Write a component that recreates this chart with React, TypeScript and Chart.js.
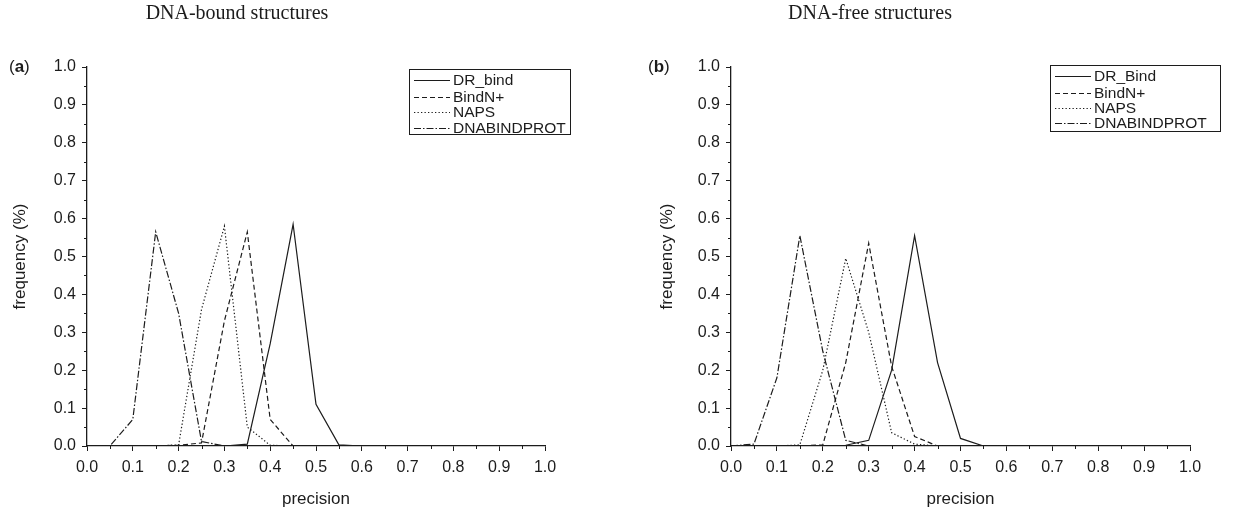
import React, { useEffect, useRef } from "react";
import { Chart, registerables } from "chart.js";

Chart.register(...registerables);

// ---------- data ----------
const precisionBins = [0, 0.05, 0.1, 0.15, 0.2, 0.25, 0.3, 0.35, 0.4, 0.45, 0.5, 0.55, 0.6, 0.65, 0.7, 0.75, 0.8, 0.85, 0.9, 0.95];

const boundDRBind = [0, 0, 0, 0, 0, 0, 0, 0.005, 0.27, 0.585, 0.11, 0.003, 0, 0, 0, 0, 0, 0, 0, 0];
const boundBindN = [0, 0, 0, 0, 0.002, 0.008, 0.33, 0.565, 0.07, 0, 0, 0, 0, 0, 0, 0, 0, 0, 0, 0];
const boundNAPS = [0, 0, 0, 0, 0.003, 0.36, 0.58, 0.05, 0.002, 0, 0, 0, 0, 0, 0, 0, 0, 0, 0, 0];
const boundDNABINDPROT = [0, 0, 0.07, 0.565, 0.35, 0.012, 0, 0, 0, 0, 0, 0, 0, 0, 0, 0, 0, 0, 0, 0];

const freeDRBind = [0, 0, 0, 0, 0, 0.002, 0.015, 0.2, 0.555, 0.22, 0.02, 0, 0, 0, 0, 0, 0, 0, 0, 0];
const freeBindN = [0, 0, 0, 0, 0.003, 0.22, 0.535, 0.21, 0.025, 0, 0, 0, 0, 0, 0, 0, 0, 0, 0, 0];
const freeNAPS = [0, 0, 0, 0.003, 0.2, 0.495, 0.3, 0.035, 0.005, 0, 0, 0, 0, 0, 0, 0, 0, 0, 0, 0];
const freeDNABINDPROT = [0, 0.005, 0.18, 0.555, 0.25, 0.015, 0, 0, 0, 0, 0, 0, 0, 0, 0, 0, 0, 0, 0, 0];

const tickLabels = ["0.0", "0.1", "0.2", "0.3", "0.4", "0.5", "0.6", "0.7", "0.8", "0.9", "1.0"];
const minorTickValues = [0.05, 0.15, 0.25, 0.35, 0.45, 0.55, 0.65, 0.75, 0.85, 0.95];

const boundLabels = ["DR_bind", "BindN+", "NAPS", "DNABINDPROT"];
const freeLabels = ["DR_Bind", "BindN+", "NAPS", "DNABINDPROT"];

// ---------- styles ----------
const INK = "#1c1c1c";
const SANS = "'Liberation Sans', Arial, sans-serif";
const SERIF = "'Liberation Serif', 'Times New Roman', serif";
const DASHES: number[][] = [[], [5, 3], [1.3, 2.2], [7, 2, 1.5, 2]];

type Panel = {
  title: string;
  letter: string;
  labels: string[];
  series: number[][];
  width: number;
  padLeft: number;
  padRight: number;
  titleX: number;
  letterX: number;
  yTitlePad: number;
  legend: { x: number; y: number; w: number; h: number; rows: number[] };
};

const PAD_TOP = 67;

function makeDecor(p: Panel) {
  return {
    id: "decor",
    afterDraw(chart: any) {
      const ctx: CanvasRenderingContext2D = chart.ctx;
      const xs = chart.scales.x;
      const ys = chart.scales.y;
      const area = chart.chartArea;
      ctx.save();
      // minor ticks
      ctx.strokeStyle = INK;
      ctx.lineWidth = 1;
      ctx.beginPath();
      for (const v of minorTickValues) {
        const px = Math.round(xs.getPixelForValue(v)) + 0.5;
        ctx.moveTo(px, area.bottom);
        ctx.lineTo(px, area.bottom + 3);
        const py = Math.round(ys.getPixelForValue(v)) + 0.5;
        ctx.moveTo(area.left, py);
        ctx.lineTo(area.left - 3, py);
      }
      ctx.stroke();

      // panel title (serif)
      ctx.fillStyle = INK;
      ctx.font = `20px ${SERIF}`;
      ctx.textAlign = "center";
      ctx.textBaseline = "middle";
      ctx.fillText(p.title, p.titleX, 14);

      // panel letter "(a)"
      const ly = ys.getPixelForValue(1);
      ctx.textAlign = "left";
      ctx.font = `17px ${SANS}`;
      let x = p.letterX;
      ctx.fillText("(", x, ly);
      x += ctx.measureText("(").width;
      ctx.font = `bold 17px ${SANS}`;
      ctx.fillText(p.letter, x, ly);
      x += ctx.measureText(p.letter).width;
      ctx.font = `17px ${SANS}`;
      ctx.fillText(")", x, ly);

      // legend
      const L = p.legend;
      ctx.lineWidth = 1;
      ctx.strokeRect(L.x + 0.5, L.y + 0.5, L.w, L.h);
      ctx.font = `15.5px ${SANS}`;
      chart.data.datasets.forEach((ds: any, i: number) => {
        const ry = L.rows[i];
        ctx.beginPath();
        ctx.setLineDash(ds.borderDash || []);
        ctx.lineWidth = 1.2;
        ctx.moveTo(L.x + 5, ry + 0.5);
        ctx.lineTo(L.x + 41, ry + 0.5);
        ctx.stroke();
        ctx.setLineDash([]);
        ctx.fillText(ds.label, L.x + 44, ry + 1);
      });
      ctx.restore();
    },
  };
}

function PanelChart({ p }: { p: Panel }) {
  const ref = useRef<HTMLCanvasElement | null>(null);
  useEffect(() => {
    if (!ref.current) return;
    const chart = new Chart(ref.current, {
      type: "line",
      data: {
        datasets: p.series.map((vals, i) => ({
          label: p.labels[i],
          data: precisionBins.map((b, j) => ({ x: b, y: vals[j] })),
          borderColor: INK,
          borderWidth: 1.2,
          borderDash: DASHES[i],
          pointRadius: 0,
          fill: false,
          tension: 0,
        })),
      },
      options: {
        responsive: false,
        animation: false,
        events: [],
        layout: { padding: { left: p.padLeft, right: p.padRight, top: PAD_TOP, bottom: 0 } },
        plugins: { legend: { display: false }, title: { display: false }, tooltip: { enabled: false } },
        scales: {
          x: {
            type: "linear",
            min: 0,
            max: 1,
            afterFit: (s: any) => {
              s.height = 514 - 446;
            },
            ticks: {
              stepSize: 0.1,
              autoSkip: false,
              maxRotation: 0,
              padding: 7,
              color: INK,
              font: { family: SANS, size: 16 },
              callback: (_v: any, i: number) => tickLabels[i],
            },
            grid: { display: true, drawOnChartArea: false, drawTicks: true, tickLength: 5, tickColor: INK, tickWidth: 1 },
            border: { display: true, color: INK, width: 1.3 },
            title: { display: true, text: "precision", color: INK, font: { family: SANS, size: 17 }, padding: { top: 0, bottom: 4 } },
          },
          y: {
            type: "linear",
            min: 0,
            max: 1,
            afterFit: (s: any) => {
              s.width = 80;
            },
            ticks: {
              stepSize: 0.1,
              autoSkip: false,
              padding: 6,
              color: INK,
              font: { family: SANS, size: 16 },
              callback: (_v: any, i: number) => tickLabels[i],
            },
            grid: { display: true, drawOnChartArea: false, drawTicks: true, tickLength: 5, tickColor: INK, tickWidth: 1 },
            border: { display: true, color: INK, width: 1.3 },
            title: { display: true, text: "frequency (%)", color: INK, font: { family: SANS, size: 17 }, padding: { top: p.yTitlePad, bottom: 0 } },
          },
        },
      },
      plugins: [makeDecor(p)],
    } as any);
    return () => chart.destroy();
  }, [p]);
  return <canvas ref={ref} width={p.width} height={514} style={{ display: "block" }} />;
}

const panelA: Panel = {
  title: "DNA-bound structures",
  letter: "a",
  labels: boundLabels,
  series: [boundDRBind, boundBindN, boundNAPS, boundDNABINDPROT],
  width: 620,
  padLeft: 7,
  padRight: 620 - 545,
  titleX: 237,
  letterX: 9,
  yTitlePad: 3,
  legend: { x: 409, y: 69, w: 161, h: 65, rows: [80, 97, 112, 128] },
};

const panelB: Panel = {
  title: "DNA-free structures",
  letter: "b",
  labels: freeLabels,
  series: [freeDRBind, freeBindN, freeNAPS, freeDNABINDPROT],
  width: 621,
  padLeft: 31,
  padRight: 621 - 570,
  titleX: 250,
  letterX: 28,
  yTitlePad: 6,
  legend: { x: 430, y: 65, w: 170, h: 66, rows: [76, 93, 108, 123] },
};

export default function App() {
  return (
    <div style={{ position: "absolute", left: 0, top: 0, width: 1241, height: 514, background: "#fff", display: "flex" }}>
      <PanelChart p={panelA} />
      <PanelChart p={panelB} />
    </div>
  );
}
